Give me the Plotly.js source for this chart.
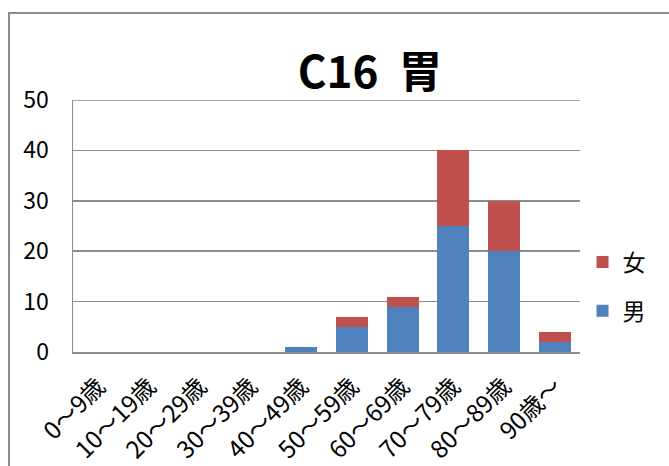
<!DOCTYPE html>
<html><head><meta charset="utf-8">
<script src="https://cdn.plot.ly/plotly-3.0.1.min.js"></script>
<style>
body{margin:0;padding:0;background:#fff;overflow:hidden}
#wrap{position:relative;width:669px;height:466px}
#chart{width:669px;height:466px}
#frame{position:absolute;left:8px;top:12px;width:700px;height:500px;border:2px solid #8c8c8c;pointer-events:none;box-sizing:border-box}
</style></head>
<body>
<div id="wrap"><div id="chart"></div><div id="frame"></div></div>
<script>
const categories = ["0〜9歳","10〜19歳","20〜29歳","30〜39歳","40〜49歳","50〜59歳","60〜69歳","70〜79歳","80〜89歳","90歳〜"];
const male = [0,0,0,0,1,5,9,25,20,2];
const female = [0,0,0,0,0,2,2,15,10,2];
const yTicks = [0,10,20,30,40,50];
const yMax = 50;

const font = "Noto Sans CJK JP, sans-serif";
const traces = [
  {type:"bar", name:"男", x:categories, y:male, marker:{color:"#4F81BD"}, legend:"legend2"},
  {type:"bar", name:"女", x:categories, y:female, marker:{color:"#C0504D"}, legend:"legend"}
];
const layout = {
  width:669, height:466,
  margin:{l:73, r:89, t:100, b:114},
  barmode:"stack", bargap:0.37,
  paper_bgcolor:"#fff", plot_bgcolor:"#fff",
  font:{family:font, color:"#000", size:22},
  title:{text:"<b>C16  胃</b>", font:{family:font, size:44, color:"#000"}, xref:"paper", x:0.586, xanchor:"center", yref:"container", y:0.845, yanchor:"middle"},
  xaxis:{type:"category", tickangle:-45, showgrid:false, showline:true, linecolor:"#8c8c8c", linewidth:2, ticks:"", tickfont:{size:24}, ticklabelstandoff:9},
  yaxis:{range:[0,yMax], tickvals:yTicks, showgrid:true, gridcolor:"#8c8c8c", gridwidth:1.5, zeroline:false, showline:true, linecolor:"#8c8c8c", linewidth:1.5, ticks:"", tickfont:{size:23}, ticklabelstandoff:18},
  shapes:[{type:"line", xref:"paper", x0:0, x1:1, yref:"y", y0:yMax, y1:yMax, line:{color:"#8c8c8c", width:1.5}}],
  showlegend:true,
  legend:{x:1.005, y:0.357, xanchor:"left", yanchor:"middle", font:{size:23}, bgcolor:"rgba(0,0,0,0)"},
  legend2:{x:1.005, y:0.163, xanchor:"left", yanchor:"middle", font:{size:23}, bgcolor:"rgba(0,0,0,0)"}
};
Plotly.newPlot("chart", traces, layout, {displayModeBar:false, staticPlot:true});
</script>
</body></html>
